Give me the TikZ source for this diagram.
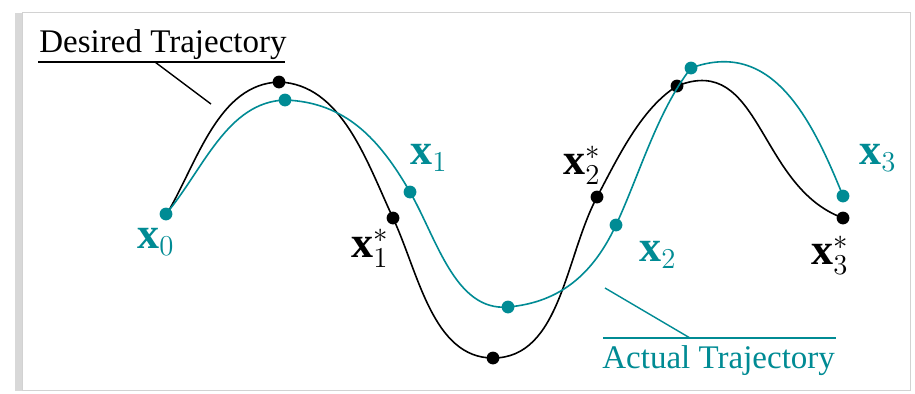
\documentclass[tikz,border=0pt]{standalone}
\usepackage{fontspec}
\setmainfont{Liberation Serif}
\usepackage{amsmath}
\usetikzlibrary{positioning,shadows}
\definecolor{actual}{RGB}{0,139,148}
\tikzset{
  dsr/.style={line width=0.8pt,black},
  act/.style={line width=0.8pt,actual},
  dot/.style={circle,fill=#1,inner sep=0pt,minimum size=6.4pt},
  lbl/.style={font=\fontsize{22}{25}\selectfont,inner sep=0pt},
  trajlabel/.style={font=\fontsize{16.5}{19}\selectfont,inner sep=0pt},
  ldr/.style={line width=0.7pt}
}

\begin{document}
\begin{tikzpicture}[x=0.5pt,y=0.5pt]
\useasboundingbox (0,0) rectangle (915,393);
\draw[gray!35,fill=white,drop shadow={shadow xshift=-3.5pt,shadow yshift=-0.5pt,fill=gray!60}] (22,3) rectangle (910,381);
% desired points
\coordinate (b0) at (168,181); \coordinate (b1) at (279,311); \coordinate (b2) at (393,175);
\coordinate (b3) at (493,35);  \coordinate (b4) at (597,196); \coordinate (b5) at (677,307);
\coordinate (b6) at (843,175);
% actual points
\coordinate (t0) at (166,179); \coordinate (t1) at (285,293); \coordinate (t2) at (410,201);
\coordinate (t3) at (508,86);  \coordinate (t4) at (616,168); \coordinate (t5) at (691,325);
\coordinate (t6) at (843,197);
% desired trajectory
\draw[dsr] (b0) to[out=60,in=182,looseness=0.9] (b1) to[out=-2,in=115,looseness=0.9] (b2)
  to[out=-65,in=180,looseness=0.9] (b3) to[out=0,in=242,looseness=0.9] (b4)
  to[out=62,in=212,looseness=0.8] (b5) to[out=22,in=160,looseness=1.1] (b6);
\foreach \p in {b1,b2,b3,b4,b5,b6} \node[dot=black] (d\p) at (\p) {};
% actual trajectory
\draw[act] (t0) to[out=50,in=182,looseness=0.9] (t1) to[out=-2,in=120] (t2)
  to[out=-60,in=185,looseness=0.9] (t3) to[out=5,in=245] (t4)
  to[out=65,in=232,looseness=0.8] (t5) to[out=20,in=112,looseness=1.1] (t6);
\foreach \p in {t0,t1,t2,t3,t4,t5,t6} \node[dot=actual] (d\p) at (\p) {};
% point labels
\node[lbl,actual] (lx0) at (156,151) {$\mathbf{x}_0$};
\node[lbl] (lb1) at (370,145) {$\mathbf{x}_1^*$};
\node[lbl,actual] (lx1) at (429,235) {$\mathbf{x}_1$};
\node[lbl] (lb2) at (582,228) {$\mathbf{x}_2^*$};
\node[lbl,actual] (lx2) at (658,138) {$\mathbf{x}_2$};
\node[lbl,actual] (lx3) at (878,235) {$\mathbf{x}_3$};
\node[lbl] (lb3) at (830,138) {$\mathbf{x}_3^*$};
% captions
\node[trajlabel,anchor=base west] (desired) at (39,341) {Desired Trajectory};
\draw[ldr] (38,331) coordinate (du0) -- (285,331) coordinate (du1);
\coordinate (dl0) at (155,331); \coordinate (dl1) at (211,289);
\draw[ldr] (dl0) -- (dl1);
\node[trajlabel,anchor=base west,actual] (actualtxt) at (602,25) {Actual Trajectory};
\draw[ldr,actual] (603,55) coordinate (au0) -- (836,55) coordinate (au1);
\coordinate (al0) at (690,55); \coordinate (al1) at (605,105);
\draw[ldr,actual] (al0) -- (al1);
\end{tikzpicture}
\end{document}
